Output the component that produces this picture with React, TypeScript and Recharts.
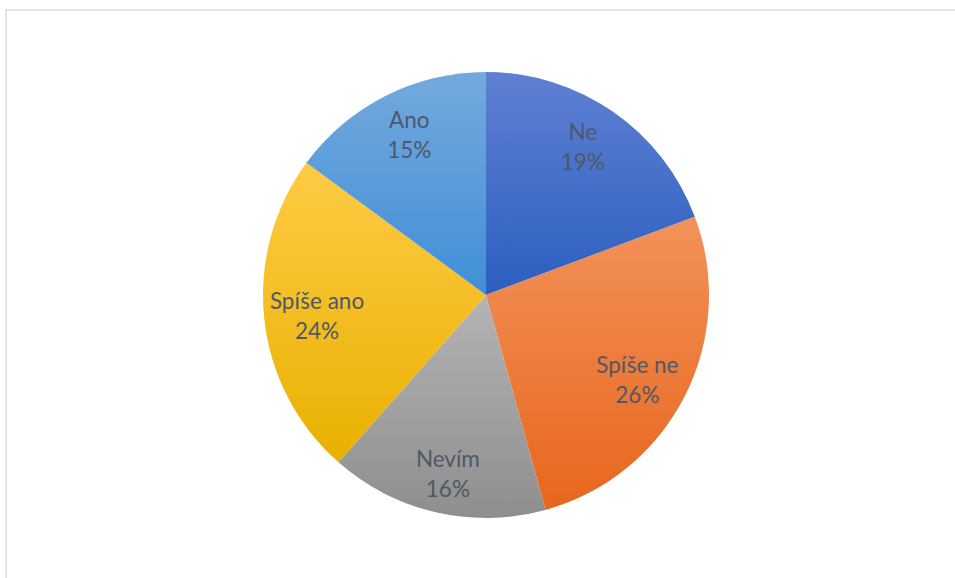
import { Cell, Pie, PieChart } from "recharts";

const CATEGORIES = ["Ne", "Spíše ne", "Nevím", "Spíše ano", "Ano"];
// shares; labels show them rounded
const SHARES = [19.3, 26.4, 15.8, 23.6, 14.9];

// top / bottom colour of each slice's gradient
const TOP_COLORS = ["#5f80d2", "#f2925a", "#b4b4b4", "#ffcb45", "#74a9de"];
const BOTTOM_COLORS = ["#2c5fc0", "#e8661c", "#8e8e8e", "#e8b000", "#3f8fd6"];

const pieData = CATEGORIES.map((name, i) => ({ name, value: SHARES[i] }));

const RADIAN = Math.PI / 180;

const renderLabel = (props: any) => {
  const { cx, cy, midAngle, outerRadius, name, value } = props;
  const x = cx + outerRadius * 0.762 * Math.cos(-midAngle * RADIAN);
  const y = cy + 3 + outerRadius * 0.816 * Math.sin(-midAngle * RADIAN);
  return (
    <text
      x={x}
      y={y}
      textAnchor="middle"
      fill="#4f5868"
      fontSize={22.5}
      fontFamily="Lato, 'Open Sans', sans-serif"
    >
      <tspan x={x} dy={-8}>
        {name}
      </tspan>
      <tspan x={x} dy={30}>
        {Math.round(value)}%
      </tspan>
    </text>
  );
};

export default function App() {
  return (
    <div style={{ position: "fixed", left: 0, top: 0, width: 955, height: 578, background: "#fff", overflow: "hidden" }}>
      <div
        style={{
          position: "absolute",
          left: 5,
          top: 9,
          width: 1000,
          height: 620,
          borderLeft: "2px solid #e1e4ea",
          borderTop: "2px solid #e1e4ea",
        }}
      />
      <div style={{ position: "absolute", left: 0, top: 0 }}>
        <PieChart width={955} height={578} margin={{ top: 0, right: 0, bottom: 0, left: 0 }}>
          <defs>
            {CATEGORIES.map((_c, i) => (
              <linearGradient key={`g-${i}`} id={`grad-${i}`} x1="0" y1="0" x2="0" y2="1">
                <stop offset="0%" stopColor={TOP_COLORS[i]} />
                <stop offset="100%" stopColor={BOTTOM_COLORS[i]} />
              </linearGradient>
            ))}
          </defs>
          <Pie
            data={pieData}
            dataKey="value"
            nameKey="name"
            cx={486}
            cy={295}
            outerRadius={223}
            startAngle={90}
            endAngle={-270}
            stroke="none"
            label={renderLabel}
            labelLine={false}
            isAnimationActive={false}
          >
            {pieData.map((_e, i) => (
              <Cell key={`cell-${i}`} fill={`url(#grad-${i})`} />
            ))}
          </Pie>
        </PieChart>
      </div>
    </div>
  );
}
